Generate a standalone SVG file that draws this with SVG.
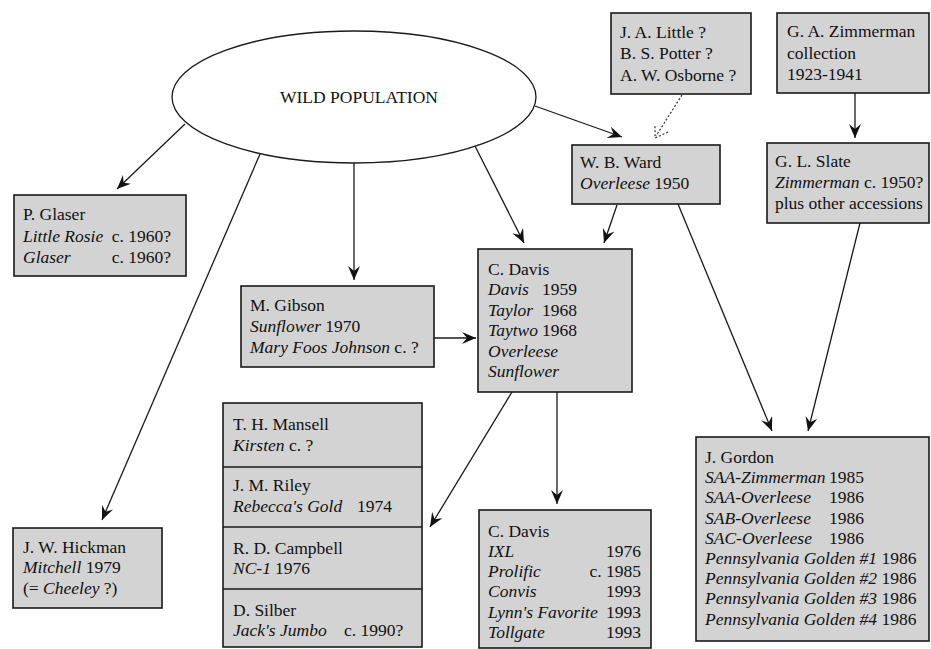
<svg xmlns="http://www.w3.org/2000/svg" width="931" height="649" viewBox="0 0 931 649">
<style>
.bg{fill:#ffffff}
.box{fill:#d3d3d3;stroke:#1a1a1a;stroke-width:1.6}
.ell{fill:#ffffff;stroke:#1a1a1a;stroke-width:1.3}
.t{font-family:'Liberation Serif','Times New Roman',serif;font-size:17.5px;fill:#111}
.i{font-style:italic}
.e{text-anchor:end}
.c{fill:none;stroke:#1a1a1a;stroke-width:1.3;marker-end:url(#ah)}
.d{fill:none;stroke:#333;stroke-width:1.2;stroke-dasharray:2 2}
</style>
<defs>
<marker id="ah" viewBox="0 0 14 12" refX="14" refY="6" markerWidth="14" markerHeight="12" markerUnits="userSpaceOnUse" orient="auto">
<path d="M0,0 L14,6 L0,12 L5,6 Z" fill="#111"/>
</marker>
</defs>
<rect class="bg" x="0" y="0" width="931" height="649"/>

<g id="connectors">
<line class="c" x1="185" y1="124" x2="117" y2="189"/>
<line class="c" x1="260" y1="154" x2="102" y2="520"/>
<line class="c" x1="354" y1="163" x2="354" y2="280"/>
<line class="c" x1="475" y1="146" x2="524" y2="243"/>
<line class="c" x1="535" y1="106" x2="622" y2="137"/>
<line class="c" x1="617" y1="205" x2="604" y2="243"/>
<line class="c" x1="434" y1="338" x2="476" y2="338"/>
<line class="c" x1="557" y1="392" x2="557" y2="504"/>
<line class="c" x1="512" y1="392" x2="430" y2="527"/>
<line class="c" x1="855" y1="93" x2="855" y2="138"/>
<line class="c" x1="678" y1="204" x2="772" y2="431"/>
<line class="c" x1="860" y1="223" x2="808" y2="431"/>
<line class="d" x1="682" y1="95" x2="656" y2="136"/>
<polyline class="d" points="668,132 655,138 655,125"/>
</g>

<g id="wild">
<ellipse class="ell" cx="354" cy="97" rx="182" ry="66"/>
<text class="t" x="359" y="103" text-anchor="middle">WILD POPULATION</text>
</g>

<g id="glaser">
<rect class="box" x="14" y="195" width="172" height="81"/>
<text class="t" x="23" y="220">P. Glaser</text>
<text class="t i" x="23" y="242">Little Rosie</text>
<text class="t e" x="171" y="242">c. 1960?</text>
<text class="t i" x="23" y="263">Glaser</text>
<text class="t e" x="171" y="263">c. 1960?</text>
</g>

<g id="gibson">
<rect class="box" x="241" y="286" width="193" height="81"/>
<text class="t" x="250" y="311">M. Gibson</text>
<text class="t" x="250" y="332"><tspan class="i">Sunflower</tspan> 1970</text>
<text class="t" x="250" y="353"><tspan class="i">Mary Foos Johnson</tspan> c. ?</text>
</g>

<g id="davis1">
<rect class="box" x="478" y="249" width="154" height="143"/>
<text class="t" x="488" y="275">C. Davis</text>
<text class="t i" x="488" y="295">Davis</text>
<text class="t e" x="577" y="295">1959</text>
<text class="t i" x="488" y="316">Taylor</text>
<text class="t e" x="577" y="316">1968</text>
<text class="t i" x="488" y="336">Taytwo</text>
<text class="t e" x="577" y="336">1968</text>
<text class="t i" x="488" y="357">Overleese</text>
<text class="t i" x="488" y="377">Sunflower</text>
</g>

<g id="ward">
<rect class="box" x="572" y="145" width="148" height="59"/>
<text class="t" x="580" y="168">W. B. Ward</text>
<text class="t" x="580" y="189"><tspan class="i">Overleese</tspan> 1950</text>
</g>

<g id="little">
<rect class="box" x="611" y="13" width="140" height="81"/>
<text class="t" x="620" y="38">J. A. Little ?</text>
<text class="t" x="620" y="59">B. S. Potter ?</text>
<text class="t" x="620" y="81">A. W. Osborne ?</text>
</g>

<g id="zimmerman">
<rect class="box" x="777" y="13" width="152" height="80"/>
<text class="t" x="787" y="37">G. A. Zimmerman</text>
<text class="t" x="787" y="59">collection</text>
<text class="t" x="787" y="80">1923-1941</text>
</g>

<g id="slate">
<rect class="box" x="767" y="143" width="162" height="80"/>
<text class="t" x="775" y="167">G. L. Slate</text>
<text class="t" x="775" y="188"><tspan class="i">Zimmerman</tspan> c. 1950?</text>
<text class="t" x="775" y="209">plus other accessions</text>
</g>

<g id="hickman">
<rect class="box" x="13" y="528" width="149" height="80"/>
<text class="t" x="23" y="553">J. W. Hickman</text>
<text class="t" x="23" y="573"><tspan class="i">Mitchell</tspan> 1979</text>
<text class="t" x="23" y="594">(= <tspan class="i">Cheeley</tspan> ?)</text>
</g>

<g id="stack">
<rect class="box" x="223" y="403" width="199" height="244"/>
<line x1="223" y1="467" x2="422" y2="467" stroke="#1a1a1a" stroke-width="1.6"/>
<line x1="223" y1="527" x2="422" y2="527" stroke="#1a1a1a" stroke-width="1.6"/>
<line x1="223" y1="589" x2="422" y2="589" stroke="#1a1a1a" stroke-width="1.6"/>
<text class="t" x="233" y="430">T. H. Mansell</text>
<text class="t" x="233" y="451"><tspan class="i">Kirsten</tspan> c. ?</text>
<text class="t" x="233" y="491">J. M. Riley</text>
<text class="t i" x="233" y="512">Rebecca's Gold</text>
<text class="t" x="357" y="512">1974</text>
<text class="t" x="233" y="554">R. D. Campbell</text>
<text class="t i" x="233" y="574">NC-1</text>
<text class="t" x="275" y="574">1976</text>
<text class="t" x="233" y="616">D. Silber</text>
<text class="t i" x="233" y="636">Jack's Jumbo</text>
<text class="t" x="344" y="636">c. 1990?</text>
</g>

<g id="davis2">
<rect class="box" x="479" y="510" width="172" height="138"/>
<text class="t" x="488" y="537">C. Davis</text>
<text class="t i" x="488" y="557">IXL</text>
<text class="t e" x="641" y="557">1976</text>
<text class="t i" x="488" y="577">Prolific</text>
<text class="t e" x="641" y="577">c. 1985</text>
<text class="t i" x="488" y="597">Convis</text>
<text class="t e" x="641" y="597">1993</text>
<text class="t i" x="488" y="618">Lynn's Favorite</text>
<text class="t e" x="641" y="618">1993</text>
<text class="t i" x="488" y="638">Tollgate</text>
<text class="t e" x="641" y="638">1993</text>
</g>

<g id="gordon">
<rect class="box" x="696" y="437" width="233" height="204"/>
<text class="t" x="705" y="463">J. Gordon</text>
<text class="t i" x="705" y="483">SAA-Zimmerman</text>
<text class="t" x="829" y="483">1985</text>
<text class="t i" x="705" y="503">SAA-Overleese</text>
<text class="t" x="829" y="503">1986</text>
<text class="t i" x="705" y="524">SAB-Overleese</text>
<text class="t" x="829" y="524">1986</text>
<text class="t i" x="705" y="544">SAC-Overleese</text>
<text class="t" x="829" y="544">1986</text>
<text class="t" x="705" y="564"><tspan class="i">Pennsylvania Golden #1</tspan> 1986</text>
<text class="t" x="705" y="584"><tspan class="i">Pennsylvania Golden #2</tspan> 1986</text>
<text class="t" x="705" y="604"><tspan class="i">Pennsylvania Golden #3</tspan> 1986</text>
<text class="t" x="705" y="625"><tspan class="i">Pennsylvania Golden #4</tspan> 1986</text>
</g>
</svg>
